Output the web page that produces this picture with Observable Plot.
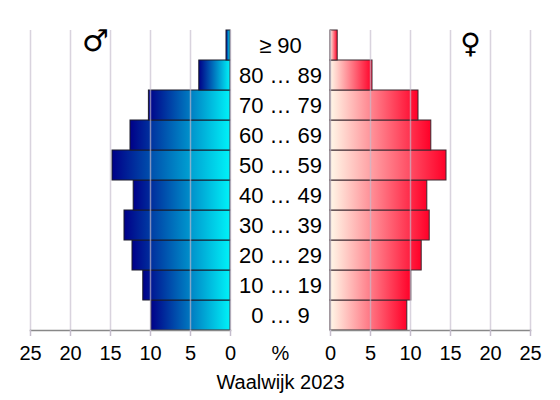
<!DOCTYPE html>
<html>
<head>
<meta charset="utf-8">
<script src="https://cdn.jsdelivr.net/npm/d3@7"></script>
<script src="https://cdn.jsdelivr.net/npm/@observablehq/plot@0.6"></script>
<style>
  html, body { margin: 0; padding: 0; background: white; }
  #chart { position: relative; width: 560px; height: 400px; font-family: "Liberation Sans", Arial, sans-serif; }
  #chart svg { position: absolute; left: 0; top: 0; }
</style>
</head>
<body>
<div id="chart"></div>
<script>
const ages = ["0 … 9", "10 … 19", "20 … 29", "30 … 39", "40 … 49", "50 … 59", "60 … 69", "70 … 79", "80 … 89", "≥ 90"];
const male = [9.9, 10.9, 12.25, 13.25, 12.1, 14.75, 12.5, 10.2, 3.9, 0.5];
const female = [9.6, 10.1, 11.4, 12.4, 12.1, 14.5, 12.6, 11.0, 5.25, 0.9];
const ticks = [0, 5, 10, 15, 20, 25];
const title = "Waalwijk 2023";

const maleData = ages.map((a, i) => ({age: a, value: male[i]}));
const femaleData = ages.map((a, i) => ({age: a, value: female[i]}));
const yDomain = ages.slice().reverse();

function gradientDefs(id, c0, c1) {
  return () => {
    const defs = d3.create("svg:defs");
    const g = defs.append("linearGradient").attr("id", id).attr("x1", "0").attr("x2", "1").attr("y1", "0").attr("y2", "0");
    g.append("stop").attr("offset", "0").attr("stop-color", c0);
    g.append("stop").attr("offset", "1").attr("stop-color", c1);
    return defs.node();
  };
}

const common = {
  width: 560,
  height: 400,
  marginTop: 30,
  marginBottom: 70,
  style: {background: "transparent", fontSize: "20px", fontFamily: "'Liberation Sans', Arial, sans-serif", color: "black"},
  y: {domain: yDomain, padding: 0, round: false, axis: null}
};

const gridStyle = {stroke: "#c4bccc", strokeOpacity: 0.65, strokeWidth: 1.5};
const axisStyle = {tickSize: 6, tickPadding: 9, stroke: "#c4bccc", strokeWidth: 1.5, fontSize: 20, fill: "black", label: null};

const left = Plot.plot({
  ...common,
  marginLeft: 30,
  marginRight: 330,
  x: {domain: [25, 0], ticks: ticks, axis: null, label: null},
  marks: [
    gradientDefs("gradM", "#000088", "#00f2f8"),
    Plot.barX(maleData, {x: "value", y: "age", fill: "url(#gradM)", stroke: "#1a1a2a", strokeWidth: 1}),
    Plot.gridX(ticks, {...gridStyle}),
    Plot.frame({anchor: "bottom", stroke: "#888", strokeWidth: 1.5}),
    Plot.axisX(ticks, axisStyle),
    Plot.text(ages, {y: d => d, text: d => d, frameAnchor: "right", dx: 50, textAnchor: "middle", lineAnchor: "middle", fontSize: 22, fill: "black"}),
    Plot.text(["%"], {frameAnchor: "bottom-right", dx: 50, dy: 23, textAnchor: "middle", lineAnchor: "middle", fontSize: 20, fill: "black"}),
    Plot.text([title], {frameAnchor: "bottom-right", dx: 50, dy: 52, textAnchor: "middle", lineAnchor: "middle", fontSize: 20, fill: "black"}),
    Plot.text(["♂"], {frameAnchor: "top-left", dx: 65, dy: 11, textAnchor: "middle", lineAnchor: "middle", fontSize: 30, fill: "black", fontFamily: "DejaVu Sans"})
  ]
});

const right = Plot.plot({
  ...common,
  marginLeft: 330,
  marginRight: 30,
  x: {domain: [0, 25], ticks: ticks, axis: null, label: null},
  marks: [
    gradientDefs("gradF", "#fff8e8", "#ff0028"),
    Plot.barX(femaleData, {x: "value", y: "age", fill: "url(#gradF)", stroke: "#3a2830", strokeWidth: 1}),
    Plot.gridX(ticks, {...gridStyle}),
    Plot.frame({anchor: "bottom", stroke: "#888", strokeWidth: 1.5}),
    Plot.axisX(ticks, axisStyle),
    Plot.text(["♀"], {frameAnchor: "top-right", dx: -60, dy: 14, textAnchor: "middle", lineAnchor: "middle", fontSize: 28, fill: "black", fontFamily: "DejaVu Sans"})
  ]
});

const chart = document.getElementById("chart");
chart.appendChild(left);
chart.appendChild(right);
</script>
</body>
</html>
